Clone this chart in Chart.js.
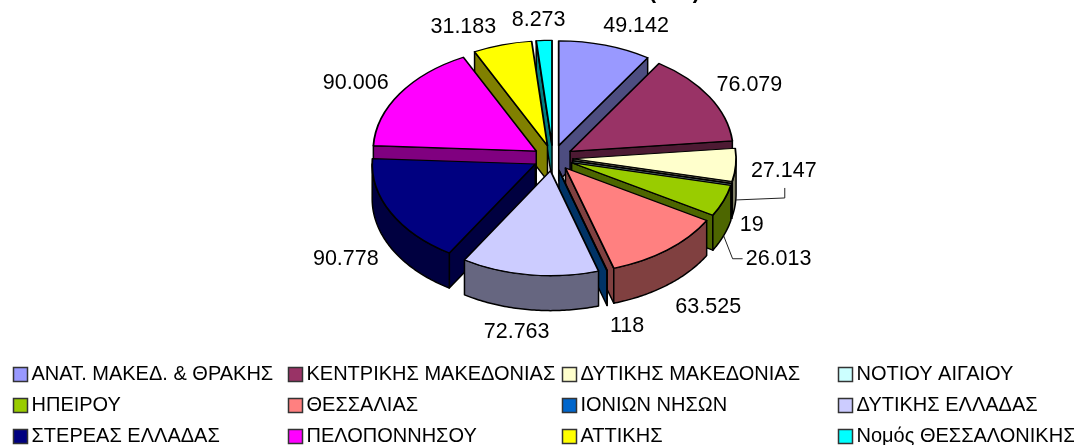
<!DOCTYPE html>
<html>
<head>
<meta charset="utf-8">
<style>
  html, body { margin: 0; padding: 0; background: #fff; }
  canvas { display: block; }
</style>
<script src="https://cdn.jsdelivr.net/npm/chart.js@4"></script>
</head>
<body>
<canvas id="grafico" width="1074" height="445"></canvas>
<script>
// valores
const regioes = ['ΑΝΑΤ. ΜΑΚΕΔ. & ΘΡΑΚΗΣ', 'ΚΕΝΤΡΙΚΗΣ ΜΑΚΕΔΟΝΙΑΣ', 'ΔΥΤΙΚΗΣ ΜΑΚΕΔΟΝΙΑΣ', 'ΝΟΤΙΟΥ ΑΙΓΑΙΟΥ',
  'ΗΠΕΙΡΟΥ', 'ΘΕΣΣΑΛΙΑΣ', 'ΙΟΝΙΩΝ ΝΗΣΩΝ', 'ΔΥΤΙΚΗΣ ΕΛΛΑΔΑΣ',
  'ΣΤΕΡΕΑΣ ΕΛΛΑΔΑΣ', 'ΠΕΛΟΠΟΝΝΗΣΟΥ', 'ΑΤΤΙΚΗΣ', 'Νομός ΘΕΣΣΑΛΟΝΙΚΗΣ'];
const valores = [49142, 76079, 27147, 19, 26013, 63525, 118, 72763, 90778, 90006, 31183, 8273];
const cores = ['#9999FF', '#993366', '#FFFFCC', '#CCFFFF', '#99CC00', '#FF8080',
  '#0066CC', '#CCCCFF', '#000080', '#FF00FF', '#FFFF00', '#00FFFF'];

// ajuste dos rótulos em relação à borda da fatia
const ajusteRotulos = [[31, -19], [40, -11.5], [48, 6], [20, 42], [55, 58], [41, 57],
  [20, 56], [-13, 57], [-45, 46], [-44, -11], [-39, -18], [-5.5, -20]];

const achatado = 0.643;  // inclinação do disco
const altura = 35;       // espessura do disco
const explosao = 20;
const centroY = 158;

function escurecer(hex) {
  const n = parseInt(hex.slice(1), 16);
  return 'rgb(' + (n >> 16) / 2 + ',' + ((n >> 8) & 255) / 2 + ',' + (n & 255) / 2 + ')';
}

function formatar(v) {
  return String(v).replace(/\B(?=(\d{3})+$)/g, '.');
}

const pizza3d = {
  id: 'pizza3d',
  beforeDatasetsDraw(chart) {
    const ctx = chart.ctx;
    const arcos = chart.getDatasetMeta(0).data;
    const y0 = arcos[0].y;
    const py = y => centroY + (y - y0) * achatado;

    const ordem = arcos.map((a, i) => i).sort((p, q) => {
      const mp = (arcos[p].startAngle + arcos[p].endAngle) / 2;
      const mq = (arcos[q].startAngle + arcos[q].endAngle) / 2;
      return Math.sin(mp) - Math.sin(mq);
    });

    ordem.forEach(i => {
      const arco = arcos[i];
      const a0 = arco.startAngle, a1 = arco.endAngle;
      const meio = (a0 + a1) / 2;
      const dx = Math.cos(meio) * explosao, dy = Math.sin(meio) * explosao;
      const R = arco.outerRadius;
      const cx = arco.x + dx, cy = arco.y + dy;
      const ponto = a => [cx + Math.cos(a) * R, py(cy + Math.sin(a) * R)];

      ctx.save();
      ctx.fillStyle = escurecer(cores[i]);
      ctx.strokeStyle = '#000';
      ctx.lineWidth = 1.5;
      ctx.lineJoin = 'round';

      // faces retas
      const face = a => {
        const p = ponto(a);
        ctx.beginPath();
        ctx.moveTo(cx, py(cy));
        ctx.lineTo(p[0], p[1]);
        ctx.lineTo(p[0], p[1] + altura);
        ctx.lineTo(cx, py(cy) + altura);
        ctx.closePath();
        ctx.fill();
        ctx.stroke();
      };
      if (-Math.cos(a0) > 0) face(a0);
      if (Math.cos(a1) > 0) face(a1);

      // parede externa, só a parte da frente
      const ini = Math.max(a0, 0), fim = Math.min(a1, Math.PI);
      if (fim > ini) {
        ctx.beginPath();
        for (let k = 0; k <= 60; k++) {
          const p = ponto(ini + (fim - ini) * k / 60);
          ctx.lineTo(p[0], p[1]);
        }
        for (let k = 60; k >= 0; k--) {
          const p = ponto(ini + (fim - ini) * k / 60);
          ctx.lineTo(p[0], p[1] + altura);
        }
        ctx.closePath();
        ctx.fill();
        ctx.stroke();
      }

      // tampo desenhado pelo próprio arco
      ctx.translate(0, centroY);
      ctx.scale(1, achatado);
      ctx.translate(dx, -y0 + dy);
      arco.draw(ctx);
      ctx.restore();
    });
    return false;
  },
  afterDraw(chart) {
    const ctx = chart.ctx;
    const arcos = chart.getDatasetMeta(0).data;
    const y0 = arcos[0].y;

    // resto do título cortado no topo
    ctx.save();
    ctx.fillStyle = '#000';
    ctx.font = 'bold 22px "Liberation Sans"';
    ctx.textAlign = 'center';
    ctx.textBaseline = 'alphabetic';
    ctx.fillText('(      )', 674.5, -2);

    // rótulos
    ctx.font = '21.5px "Liberation Sans"';
    ctx.textBaseline = 'middle';
    arcos.forEach((arco, i) => {
      const meio = (arco.startAngle + arco.endAngle) / 2;
      const bx = arco.x + Math.cos(meio) * (arco.outerRadius + explosao);
      const by = centroY + (arco.y + Math.sin(meio) * (arco.outerRadius + explosao) - y0) * achatado;
      const lx = bx + ajusteRotulos[i][0], ly = by + ajusteRotulos[i][1];
      ctx.fillStyle = '#000';
      ctx.fillText(formatar(valores[i]), lx, ly);

      // linhas de chamada
      let linha = null;
      if (i === 2) linha = [[bx, by + altura], [lx + 1, by + altura - 2], [lx + 1, ly + 17]];
      if (i === 4) linha = [[bx, by + altura], [lx - 46, ly], [lx - 36, ly]];
      if (linha) {
        ctx.strokeStyle = '#222';
        ctx.lineWidth = 1;
        ctx.beginPath();
        linha.forEach(p => ctx.lineTo(p[0], p[1]));
        ctx.stroke();
      }
    });

    // legenda em colunas
    const colunas = [13.5, 288.5, 562.5, 838.5];
    const linhas = [374.5, 405.5, 436.5];
    ctx.font = '20px "Liberation Sans"';
    ctx.textAlign = 'left';
    regioes.forEach((nome, i) => {
      const x = colunas[i % 4], y = linhas[Math.floor(i / 4)];
      ctx.fillStyle = cores[i];
      ctx.strokeStyle = '#333';
      ctx.lineWidth = 1.5;
      ctx.fillRect(x, y - 7, 14, 14);
      ctx.strokeRect(x, y - 7, 14, 14);
      ctx.fillStyle = '#000';
      ctx.fillText(nome, x + 18, y);
    });
    ctx.restore();
  }
};

new Chart(document.getElementById('grafico'), {
  type: 'pie',
  data: {
    labels: regioes,
    datasets: [{
      data: valores,
      backgroundColor: cores,
      borderColor: '#000',
      borderWidth: 1.8,
      borderJoinStyle: 'round'
    }]
  },
  options: {
    responsive: false,
    animation: false,
    layout: { padding: { left: 32, bottom: 117 } },
    plugins: {
      legend: { display: false },
      tooltip: { enabled: false },
      title: { display: false }
    }
  },
  plugins: [pizza3d]
});
</script>
</body>
</html>
